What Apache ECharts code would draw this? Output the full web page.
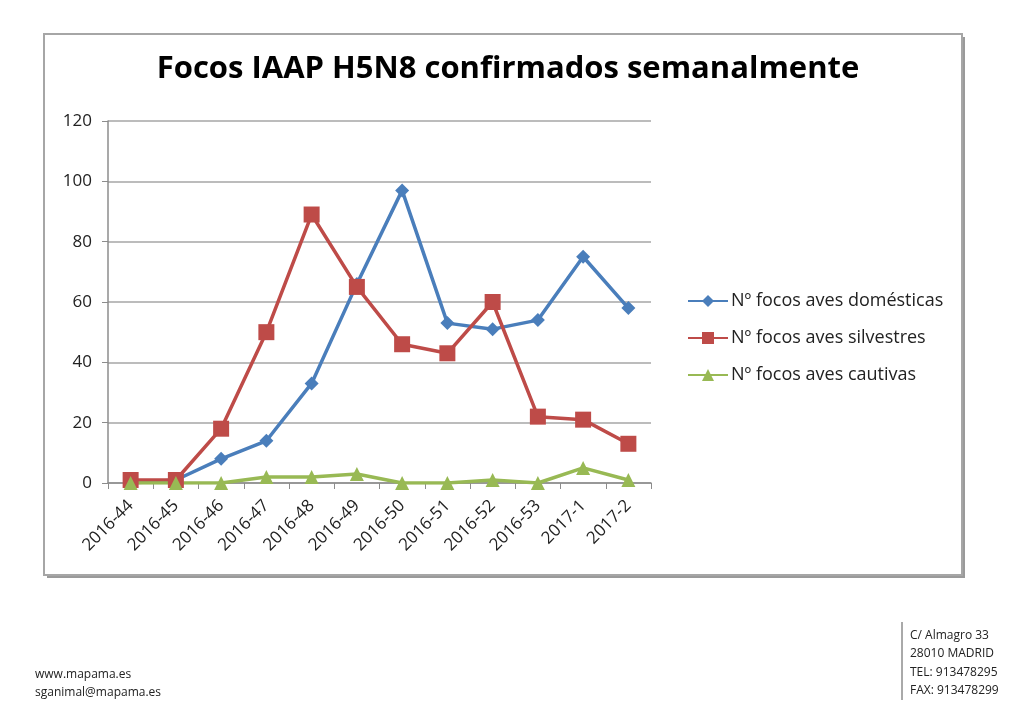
<!DOCTYPE html>
<html><head><meta charset="utf-8">
<script src="https://cdn.jsdelivr.net/npm/echarts@6/dist/echarts.min.js"></script>
<style>html,body{margin:0;padding:0;background:#fff;}#c{width:1024px;height:708px;}</style>
</head><body><div id="c"></div>
<script>
const categories = ['2016-44','2016-45','2016-46','2016-47','2016-48','2016-49','2016-50','2016-51','2016-52','2016-53','2017-1','2017-2'];
const domesticas = [0, 1, 8, 14, 33, 66, 97, 53, 51, 54, 75, 58];
const silvestres = [1, 1, 18, 50, 89, 65, 46, 43, 60, 22, 21, 13];
const cautivas = [0, 0, 0, 2, 2, 3, 0, 0, 1, 0, 5, 1];
const seriesNames = ['Nº focos aves domésticas','Nº focos aves silvestres','Nº focos aves cautivas'];
const title = 'Focos IAAP H5N8 confirmados semanalmente';
const footerLeft = ['www.mapama.es','sganimal@mapama.es'];
const footerRight = ['C/ Almagro 33','28010 MADRID','TEL: 913478295','FAX: 913478299'];

const FONT = 'Open Sans';
const chart = echarts.init(document.getElementById('c'));
function mk(name, data, color, symbol, size){
  return {name, type:'line', data, symbol, symbolSize:size, showSymbol:true,
    lineStyle:{color, width:3.5}, itemStyle:{color}, color, z:3, animation:false};
}
const gfx = [
  {type:'rect', shape:{x:47,y:37,width:918,height:541}, style:{fill:'#9a9a9a'}, z:-2, silent:true},
  {type:'rect', shape:{x:44,y:34,width:918,height:541}, style:{fill:'#fff', stroke:'#a6a6a6', lineWidth:2}, z:-1, silent:true},
  {type:'text', x:35, y:666, style:{text:footerLeft.join('\n'), font:'12px "Open Sans"', fill:'#222', lineHeight:18}},
  {type:'line', shape:{x1:902,y1:622,x2:902,y2:700}, style:{stroke:'#555', lineWidth:1}},
  {type:'text', x:910, y:626, style:{text:footerRight.join('\n'), font:'12px "Open Sans"', fill:'#222', lineHeight:18.5}}
];
chart.setOption({
  animation:false,
  backgroundColor:'#fff',
  title:{text:title, left:503, top:49, textAlign:'center',
    textStyle:{fontFamily:FONT, fontWeight:'bold', fontSize:31, color:'#000'}},
  legend:{orient:'vertical', left:682, top:287, itemWidth:40, itemHeight:15, itemGap:19,
    textStyle:{fontFamily:FONT, fontSize:18, color:'#222', padding:[0,0,0,-2]},
    data:seriesNames},
  grid:{left:108, right:373, top:121, bottom:225, containLabel:false},
  xAxis:{type:'category', data:categories, boundaryGap:true,
    axisLine:{lineStyle:{color:'#8c8c8c', width:1.5}},
    axisTick:{show:true, alignWithLabel:false, length:6, lineStyle:{color:'#8c8c8c'}},
    axisLabel:{rotate:45, fontFamily:FONT, fontSize:17, color:'#222', margin:20, interval:0}},
  yAxis:{type:'value', min:0, max:120, interval:20,
    axisLine:{show:true, lineStyle:{color:'#8c8c8c', width:1.5}},
    axisTick:{show:true, length:6, lineStyle:{color:'#8c8c8c'}},
    splitLine:{lineStyle:{color:'#a6a6a6', width:1.5}},
    axisLabel:{fontFamily:FONT, fontSize:17, color:'#222', margin:16}},
  series:[
    mk(seriesNames[0], domesticas, '#4A7EBB', 'diamond', 14),
    mk(seriesNames[1], silvestres, '#BE4B48', 'rect', 16),
    mk(seriesNames[2], cautivas, '#98B954', 'triangle', 14)
  ],
  graphic:gfx
});
</script></body></html>
